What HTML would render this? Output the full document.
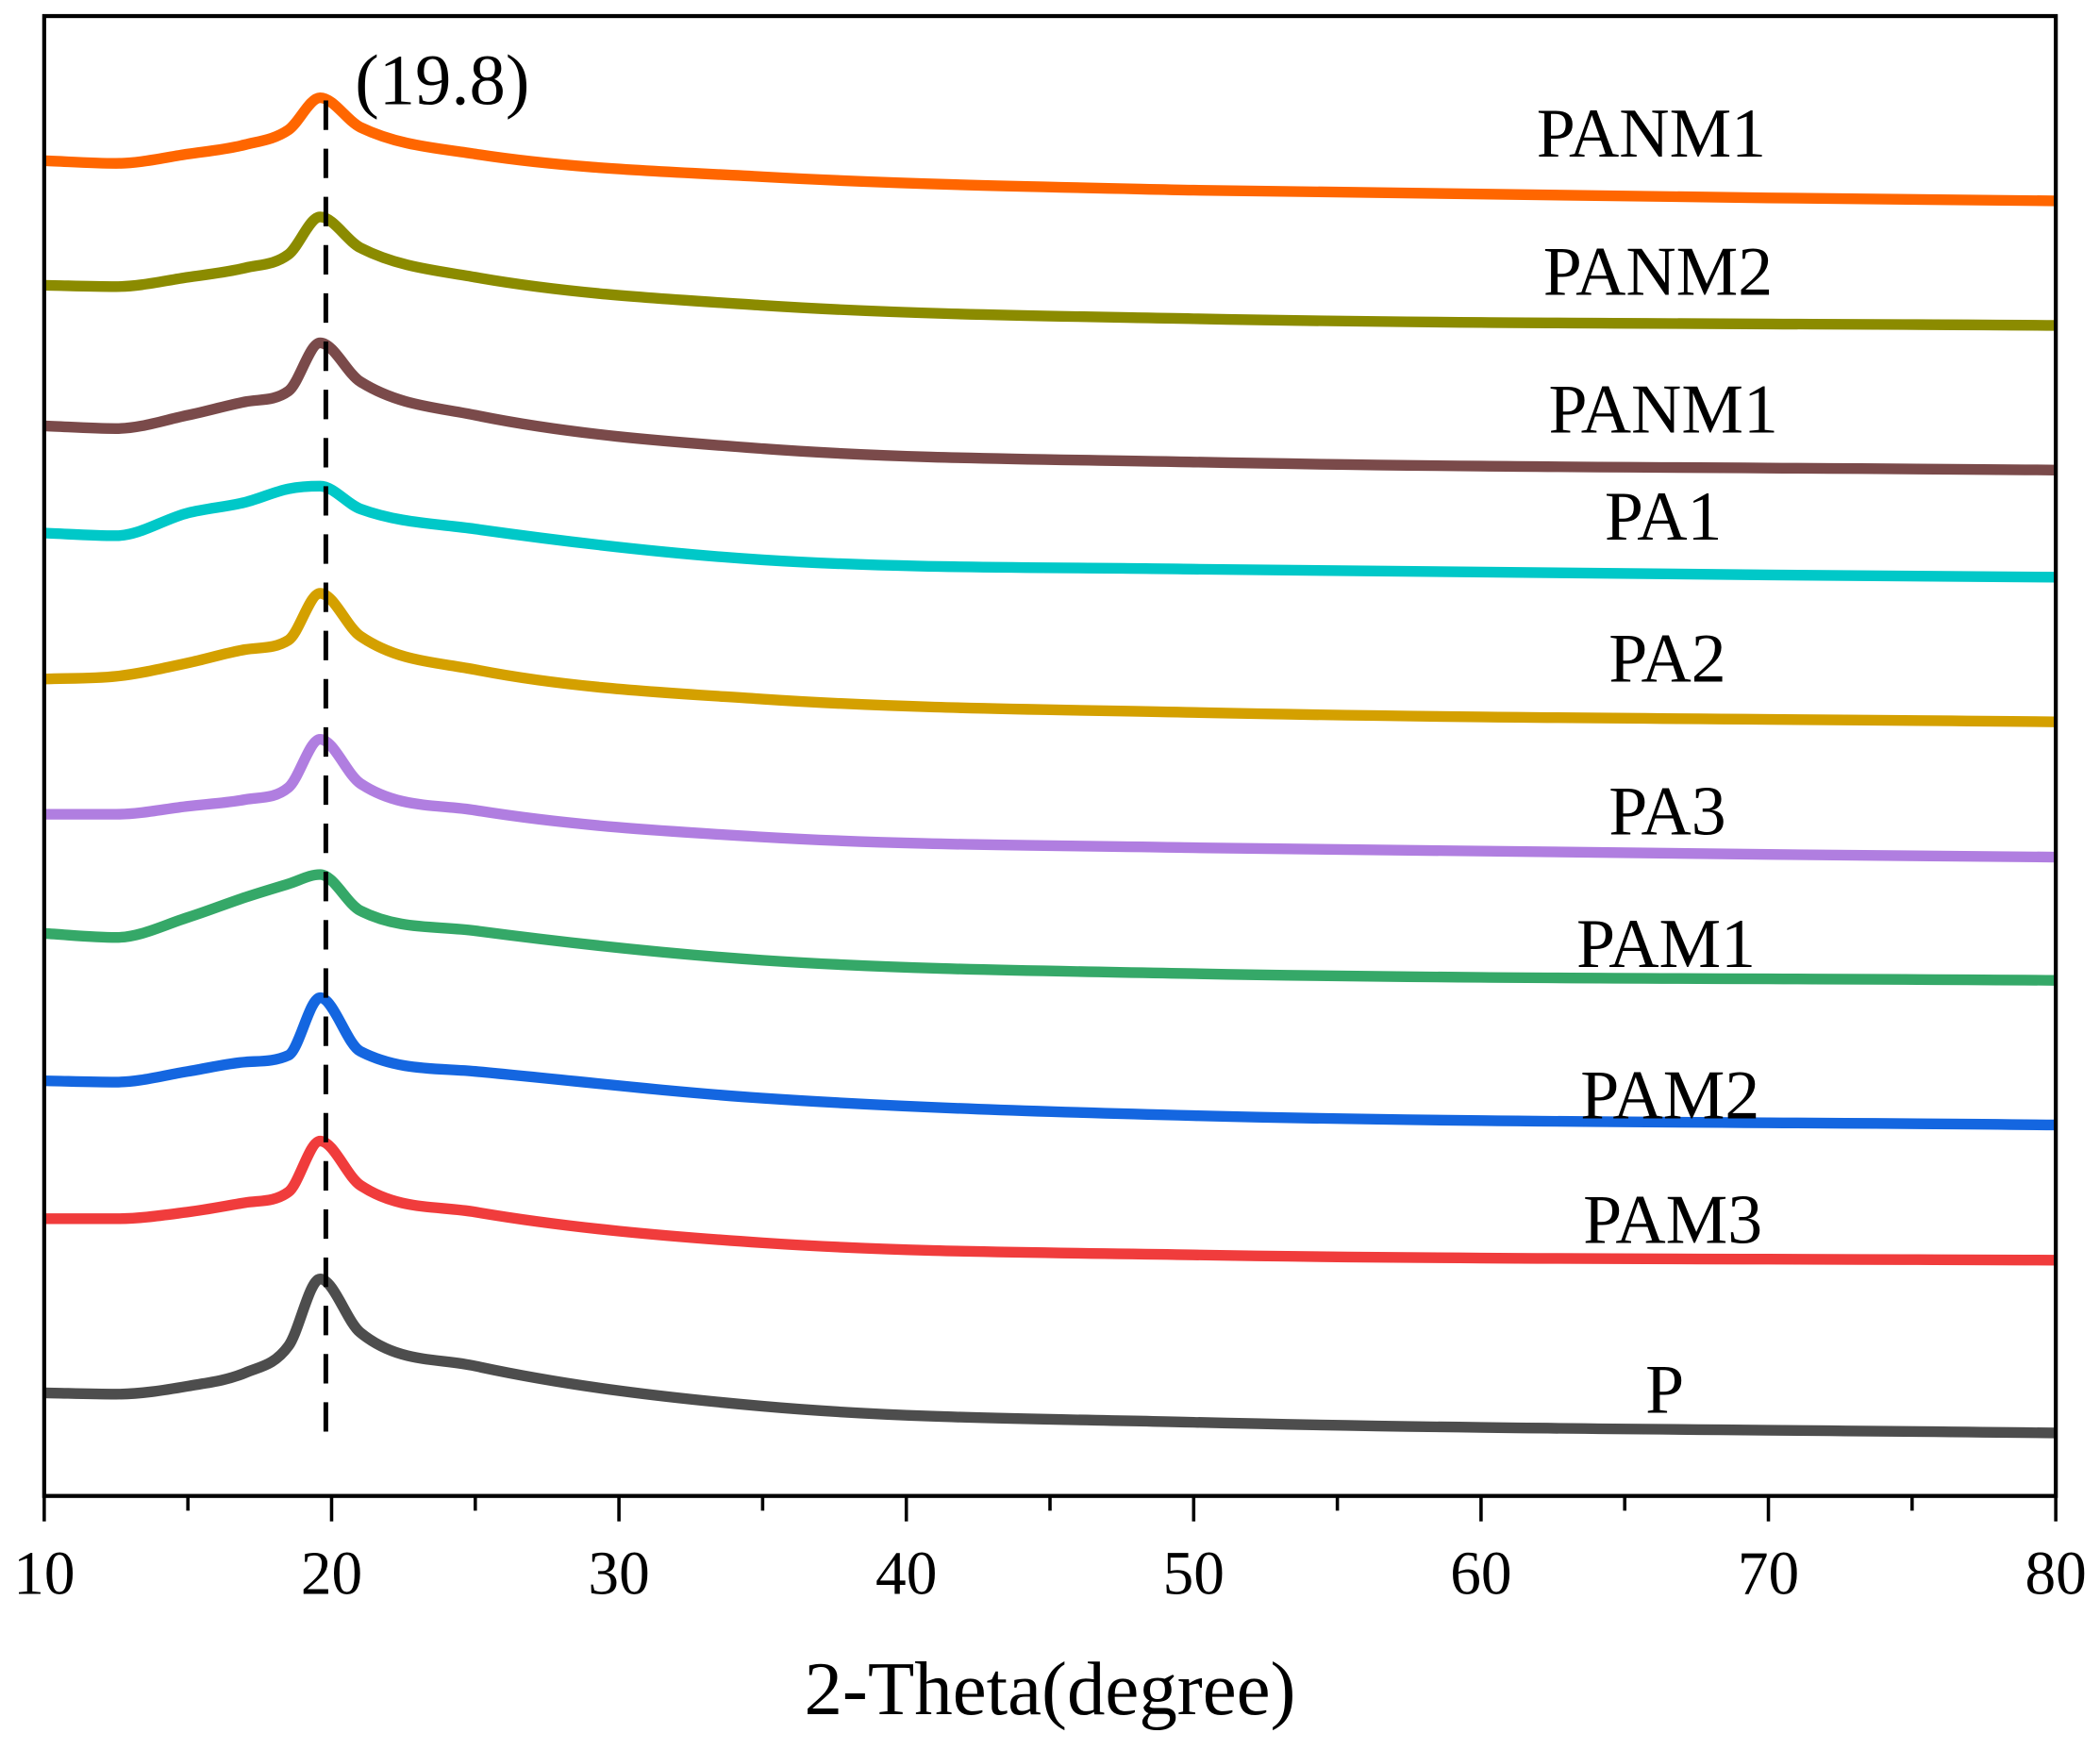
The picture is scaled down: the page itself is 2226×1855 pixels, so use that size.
<!DOCTYPE html>
<html><head><meta charset="utf-8"><style>
html,body{margin:0;padding:0;background:#fff;}
svg{display:block;}
text{font-family:"Liberation Serif",serif;fill:#000;}
</style></head><body>
<svg id="chart" width="2226" height="1855" viewBox="0 0 1568 1306.7" xmlns="http://www.w3.org/2000/svg">
<g id="series"></g>
<g id="axes"></g>
<g id="labels"></g>
</svg>
<script>
const xGrid = [10, 12.5, 15, 17, 18.5, 19.6, 21, 25, 35, 50, 80];
const seriesNames = ["PANM1","PANM2","PANM1","PA1","PA2","PA3","PAM1","PAM2","PAM3","P"];
const seriesColors = ["#ff6600","#8b8b00","#7a4a4a","#00c8c8","#d4a000","#b07ee0","#35a868","#1466e0","#f03c3c","#4d4d4d"];
// intensity (arbitrary units, higher = up)
const sPANM1a = [997,995,1002,1009,1020,1044,1022,1002,985,975,967];
const sPANM2 = [904,903,910,917,927,955,932,910,889,879,874];
const sPANM1b = [799,797,807,817,825,861,832,807,782,772,766];
const sPA1 = [719,717,734,742,752,754,737,722,699,692,686];
const sPA2 = [610,612,622,632,639,674,642,617,595,585,578];
const sPA3 = [509,509,515,520,529,565,532,512,492,484,477];
const sPAM1 = [420,417,432,447,457,464,437,422,400,390,385];
const sPAM2 = [310,309,317,324,329,372,332,317,297,284,277];
const sPAM3 = [207,207,212,219,227,265,232,212,189,180,176];
const sP = [77,76,82,92,112,162,122,97,67,55,47];
const seriesData = [sPANM1a,sPANM2,sPANM1b,sPA1,sPA2,sPA3,sPAM1,sPAM2,sPAM3,sP];
const xTicks = [10,20,30,40,50,60,70,80];
const xMinor = [15,25,35,45,55,65,75];
const peakPos = 19.8;
const labelX = [1233,1238,1242,1242,1245,1245,1244,1247,1249,1243];
const labelY = [117,220,323,403,509,623,722,835,928,1055];

const L=33,R=1535,T=12,B=1117;
const x = v => L + (v-10)/(80-10)*(R-L);
const y = v => B - v;
const NS="http://www.w3.org/2000/svg";
function mk(tag, attrs, parent){const e=document.createElementNS(NS,tag);for(const k in attrs)e.setAttribute(k,attrs[k]);parent.appendChild(e);return e;}
const gS=document.getElementById('series'), gA=document.getElementById('axes'), gL=document.getElementById('labels');

function monoPath(pts){
  const n=pts.length, d=[], m=new Array(n);
  for(let i=0;i<n-1;i++) d.push((pts[i+1][1]-pts[i][1])/(pts[i+1][0]-pts[i][0]));
  m[0]=d[0]; m[n-1]=d[n-2];
  for(let i=1;i<n-1;i++){ m[i]=(d[i-1]*d[i]<=0)?0:(d[i-1]+d[i])/2; }
  for(let i=0;i<n-1;i++){
    if(d[i]===0){m[i]=0;m[i+1]=0;continue;}
    const a=m[i]/d[i], b=m[i+1]/d[i], s=a*a+b*b;
    if(s>9){const t=3/Math.sqrt(s);m[i]=t*a*d[i];m[i+1]=t*b*d[i];}
  }
  let p="M"+pts[0][0]+","+pts[0][1];
  for(let i=0;i<n-1;i++){
    const h=(pts[i+1][0]-pts[i][0])/3;
    p+=" C"+(pts[i][0]+h)+","+(pts[i][1]+m[i]*h)+" "+(pts[i+1][0]-h)+","+(pts[i+1][1]-m[i+1]*h)+" "+pts[i+1][0]+","+pts[i+1][1];
  }
  return p;
}

seriesData.forEach((d,i)=>{
  const pts=xGrid.map((xv,j)=>[x(xv),y(d[j])]);
  const path=mk('path',{d:monoPath(pts),fill:'none',stroke:seriesColors[i],'stroke-width':8,'stroke-linejoin':'round'},gS);
  
  
  const t=mk('text',{x:labelX[i],y:labelY[i],'text-anchor':'middle','font-size':52},gL);
  t.textContent=seriesNames[i];
  
  
});

const dl=mk('line',{x1:x(peakPos),x2:x(peakPos),y1:75,y2:1070,stroke:'#000','stroke-width':3.5,'stroke-dasharray':'22,14'},gA);


const pt=mk('text',{x:265,y:78,'font-size':54},gL);
pt.textContent="(19.8)";



const fr=mk('rect',{x:L,y:T,width:R-L,height:B-T,fill:'none',stroke:'#000','stroke-width':3},gA);


xTicks.forEach(v=>{
  const tk=mk('line',{x1:x(v),x2:x(v),y1:B,y2:B+19,stroke:'#000','stroke-width':2.5},gA);
  
  
  const tl=mk('text',{x:x(v),y:1190,'text-anchor':'middle','font-size':46},gA);
  tl.textContent=v;
  
  
});
xMinor.forEach(v=>{
  const tk=mk('line',{x1:x(v),x2:x(v),y1:B,y2:B+11,stroke:'#000','stroke-width':2.5},gA);
  
  
});
const xt=mk('text',{x:784,y:1280,'text-anchor':'middle','font-size':57},gA);
xt.textContent="2-Theta(degree)";


</script>
</body></html>
